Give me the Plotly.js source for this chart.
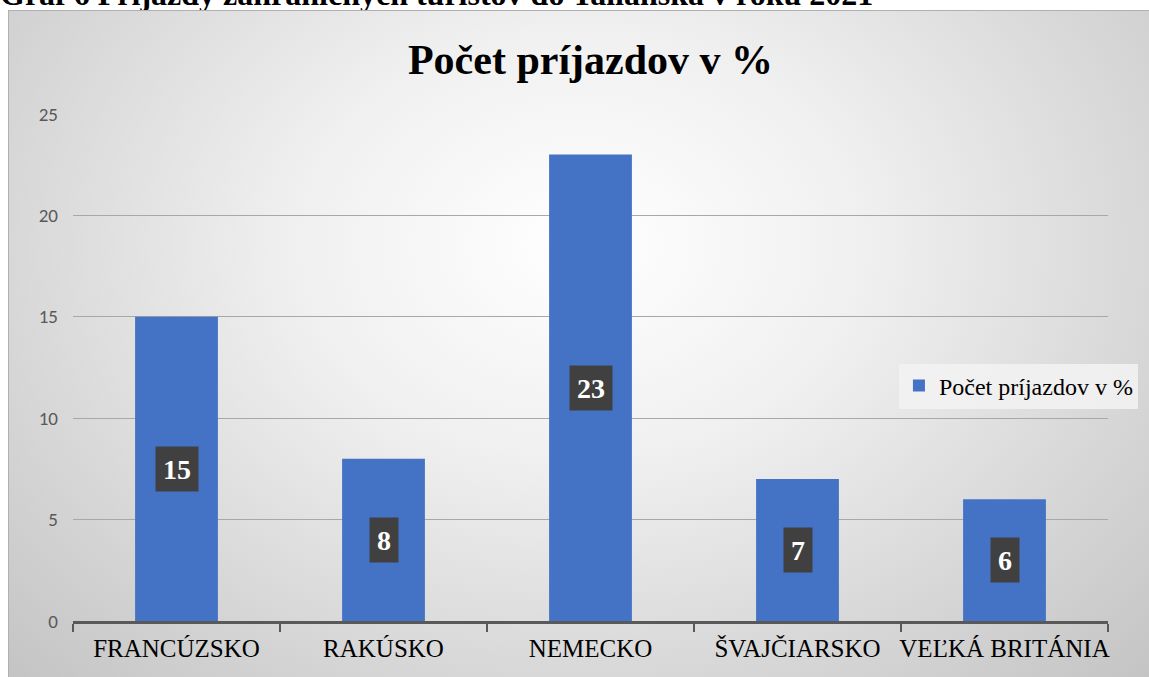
<!DOCTYPE html>
<html>
<head>
<meta charset="utf-8">
<script src="https://cdn.plot.ly/plotly-3.0.1.min.js"></script>
<style>
  html, body { margin: 0; padding: 0; background: #ffffff; width: 1149px; height: 677px; overflow: hidden; position: relative; }
  #caption { position: absolute; left: 0; top: -22px; font-family: "Liberation Serif", "Times New Roman", serif; font-weight: bold; font-size: 32px; line-height: 32px; color: #000; white-space: nowrap; }
  #chart { position: absolute; left: 8px; top: 10px; width: 1141px; height: 667px;
    background: radial-gradient(ellipse farthest-corner at 50% 35%, #ffffff 0%, #f0f0f0 35%, #d8d8d8 70%, #c4c4c4 100%);
    border-top: 1px solid #b0b0b0; border-left: 1px solid #b0b0b0; box-sizing: border-box; }
</style>
</head>
<body>
<div id="caption">Graf 6 Príjazdy zahraničných turistov do Talianska v roku 2021</div>
<div id="chart"></div>
<script>
const categories = ["FRANCÚZSKO", "RAKÚSKO", "NEMECKO", "ŠVAJČIARSKO", "VEĽKÁ BRITÁNIA"];
const values = [15, 8, 23, 7, 6];
const seriesName = "Počet príjazdov v %";
const chartTitle = "Počet príjazdov v %";
const yTicks = [0, 5, 10, 15, 20, 25];

const serif = "Liberation Serif, Times New Roman, serif";

const trace = {
  type: "bar",
  x: categories,
  y: values,
  name: seriesName,
  marker: { color: "#4472C4" },
  width: 0.4,
  hoverinfo: "x+y",
  showlegend: true
};

const annotations = categories.map((c, i) => ({
  x: c,
  y: values[i] / 2,
  xref: "x",
  yref: "y",
  text: String(values[i]),
  showarrow: false,
  font: { family: serif, size: 28, color: "#ffffff", weight: "bold" },
  bgcolor: "#404040",
  borderpad: 7,
  height: 30
}));

const layout = {
  width: 1141,
  height: 667,
  paper_bgcolor: "rgba(0,0,0,0)",
  plot_bgcolor: "rgba(0,0,0,0)",
  margin: { l: 64, r: 39, t: 103, b: 57 },
  title: {
    text: "<b>" + chartTitle + "</b>",
    font: { family: serif, size: 42, color: "#000000" },
    x: 0.5, xanchor: "center",
    y: 1 - 48 / 667, yanchor: "middle",
    xref: "paper"
  },
  xaxis: {
    type: "category",
    tickson: "boundaries",
    ticks: "outside",
    ticklen: 8,
    tickwidth: 2,
    tickcolor: "#595959",
    showline: true,
    linecolor: "#595959",
    linewidth: 3,
    showgrid: false,
    tickangle: 0,
    automargin: false,
    tickfont: { family: serif, size: 25, color: "#000000" },
    ticklabelstandoff: 3
  },
  yaxis: {
    range: [0, 25],
    tickvals: yTicks,
    ticktext: yTicks.map(String),
    showgrid: true,
    gridcolor: "#a8a8a8",
    gridwidth: 1,
    zeroline: false,
    showline: false,
    ticks: "",
    tickfont: { family: "Carlito, Liberation Sans, sans-serif", size: 19, color: "#595959" },
    ticklabelstandoff: 14
  },
  legend: {
    x: 0.798, xanchor: "left",
    y: 0.4635, yanchor: "middle",
    bgcolor: "rgba(242,242,242,0.9)",
    font: { family: serif, size: 24, color: "#000000" },
    itemwidth: 30
  },
  annotations: annotations,
  bargap: 0.6,
  hovermode: "closest"
};

Plotly.newPlot("chart", [trace], layout, { displayModeBar: false, responsive: false });
</script>
</body>
</html>
